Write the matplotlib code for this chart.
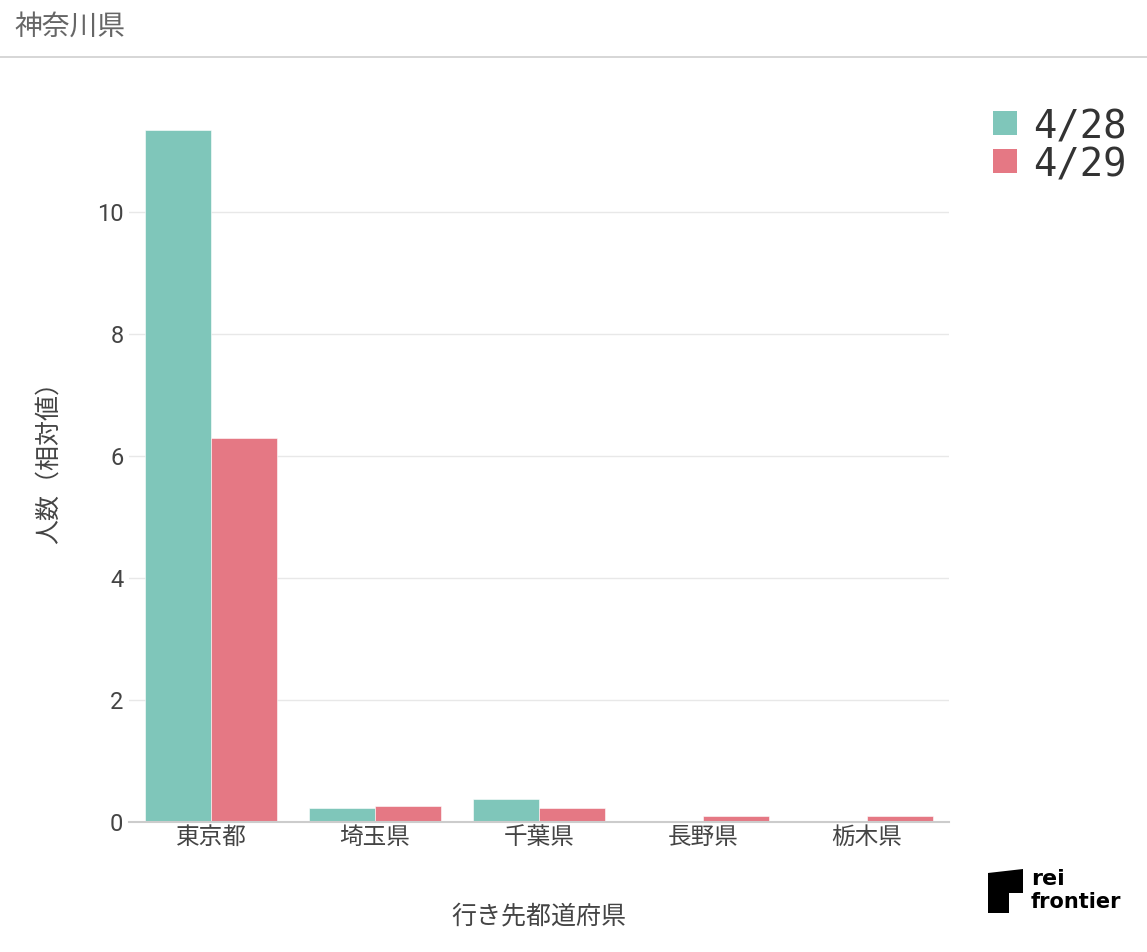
import matplotlib.pyplot as plt
from matplotlib.patches import Polygon, Rectangle
from matplotlib.lines import Line2D
import numpy as np

plt.rcParams['font.family'] = ['Roboto', 'Noto Sans CJK JP', 'DejaVu Sans']

prefs = ["東京都", "埼玉県", "千葉県", "長野県", "栃木県"]
dates = ["4/28", "4/29"]
v0428 = [11.34, 0.235, 0.37, 0.0, 0.0]
v0429 = [6.30, 0.27, 0.23, 0.10, 0.10]
colors = ["#7fc6ba", "#e57884"]
yticks = [0, 2, 4, 6, 8, 10]

fig = plt.figure(figsize=(11.47, 9.52), dpi=100)
W, H = 1147, 952
# axes: x 129..949 px, y 90..822 px
ax = fig.add_axes([129 / W, 1 - 822 / H, (949 - 129) / W, (822 - 90) / H])

x = np.arange(len(prefs))
bw = 0.4
ax.bar(x - bw / 2, v0428, bw, color=colors[0], label=dates[0], edgecolor="white", linewidth=0.4)
ax.bar(x + bw / 2, v0429, bw, color=colors[1], label=dates[1], edgecolor="white", linewidth=0.4)

ax.set_xlim(-0.5, len(prefs) - 0.5)
ax.set_ylim(0, 12.0)
ax.set_yticks(yticks)
ax.set_yticklabels([str(t) for t in yticks])
ax.set_xticks(x)
ax.set_xticklabels(prefs)
ax.tick_params(axis="both", length=0, labelsize=17, labelcolor="#444444")
ax.tick_params(axis="x", pad=3)
ax.tick_params(axis="y", pad=4)
ax.grid(axis="y", color="#e8e8e8", linewidth=1)
ax.set_axisbelow(True)
for s in ["top", "right", "left"]:
    ax.spines[s].set_visible(False)
ax.spines["bottom"].set_color("#cccccc")
ax.spines["bottom"].set_linewidth(1.5)

ax.set_ylabel("人数（相対値）", fontsize=18, color="#444444", labelpad=26)
ax.set_xlabel("行き先都道府県", fontsize=18, color="#444444", labelpad=40)

# legend (drawn by hand to match the layout)
for i, (lab, c) in enumerate(zip(dates, colors)):
    top = 111 + i * 38
    fig.add_artist(Rectangle((993 / W, 1 - (top + 24) / H), 24 / W, 24 / H,
                             facecolor=c, edgecolor="none", transform=fig.transFigure))
    fig.text(1033 / W, 1 - (top + 12) / H, lab, fontsize=28, color="#333333",
             va="center_baseline", ha="left", family=["DejaVu Sans Mono", "Liberation Mono"])

# header
fig.text(14 / W, 1 - 27 / H, "神奈川県", fontsize=20, color="#666666", va="center", ha="left")
fig.add_artist(Line2D([0, 1], [1 - 57 / H, 1 - 57 / H], color="#d0d0d0", linewidth=1.2,
                      transform=fig.transFigure))

# logo
pts = [(988, 873), (1023, 869), (1023, 893), (1009, 893), (1009, 913), (988, 913)]
fig.add_artist(Polygon([(px / W, 1 - py / H) for px, py in pts], closed=True,
                       facecolor="black", transform=fig.transFigure))
fig.text(1031 / W, 1 - 879 / H, "rei", fontsize=16, fontweight="bold", color="black",
         va="center", ha="left", family="DejaVu Sans")
fig.text(1031 / W, 1 - 902 / H, "frontier", fontsize=15, fontweight="bold", color="black",
         va="center", ha="left", family="DejaVu Sans")

fig.savefig("out.png", dpi=100)
